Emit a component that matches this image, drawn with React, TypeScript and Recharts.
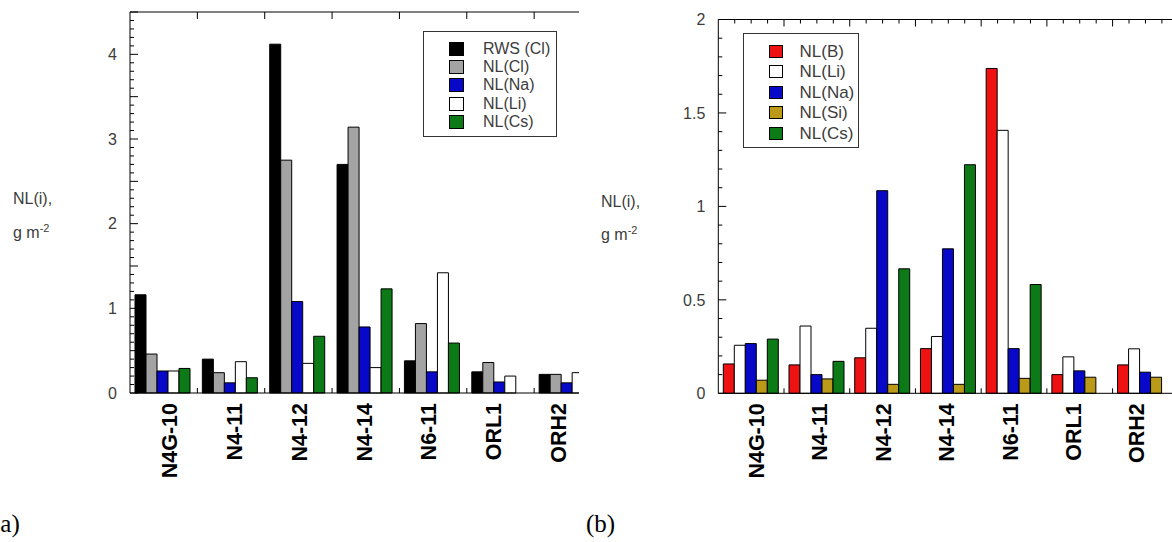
import React from "react"
import { BarChart, Bar, XAxis, YAxis, Legend } from "recharts"

const samples = ["N4G-10", "N4-11", "N4-12", "N4-14", "N6-11", "ORL1", "ORH2"]

// panel (a)
const rwsCl = [1.16, 0.4, 4.12, 2.7, 0.38, 0.25, 0.22]
const nlClA = [0.46, 0.24, 2.75, 3.14, 0.82, 0.36, 0.22]
const nlNaA = [0.26, 0.12, 1.08, 0.78, 0.25, 0.13, 0.12]
const nlLiA = [0.26, 0.37, 0.35, 0.3, 1.42, 0.2, 0.24]
const nlCsA = [0.29, 0.18, 0.67, 1.23, 0.59, null, null]

// panel (b)
const nlB = [0.157, 0.152, 0.19, 0.239, 1.738, 0.1, 0.152]
const nlLiB = [0.257, 0.36, 0.348, 0.304, 1.407, 0.195, 0.238]
const nlNaB = [0.266, 0.1, 1.084, 0.773, 0.239, 0.12, 0.113]
const nlSi = [0.07, 0.077, 0.048, 0.048, 0.08, 0.086, 0.086]
const nlCsB = [0.29, 0.171, 0.666, 1.223, 0.582, null, null]

const labelsA = [0, 1, 2, 3, 4]
const labelsB = [0, 0.5, 1, 1.5, 2]

const minorTicks = (max: number) => Array.from({ length: Math.round(max * 10) + 1 }, (_, i) => i / 10)

const seriesA = [
  { key: "rws", name: "RWS (Cl)", values: rwsCl, fill: "#000000" },
  { key: "cl", name: "NL(Cl)", values: nlClA, fill: "#a3a3a3" },
  { key: "na", name: "NL(Na)", values: nlNaA, fill: "#0808c8" },
  { key: "li", name: "NL(Li)", values: nlLiA, fill: "#ffffff" },
  { key: "cs", name: "NL(Cs)", values: nlCsA, fill: "#0c7a16" },
]

const seriesB = [
  { key: "b", name: "NL(B)", values: nlB, fill: "#ee1212" },
  { key: "li", name: "NL(Li)", values: nlLiB, fill: "#ffffff" },
  { key: "na", name: "NL(Na)", values: nlNaB, fill: "#0808c8" },
  { key: "si", name: "NL(Si)", values: nlSi, fill: "#bb9a1a" },
  { key: "cs", name: "NL(Cs)", values: nlCsB, fill: "#0c7a16" },
]

const buildRows = (series: typeof seriesA) =>
  samples.map((name, i) => {
    const row: Record<string, any> = { name }
    series.forEach((s) => (row[s.key] = s.values[i]))
    return row
  })

const FONT = "'Liberation Sans', Arial, sans-serif"
const TEXT = "#3c3c3c"

const makeYTick = (labels: number[]) => (props: any) => {
  const { x, y, payload } = props
  const v = payload.value
  const half = Math.abs(v * 2 - Math.round(v * 2)) < 1e-6
  const show = labels.some((l) => Math.abs(l - v) < 1e-6)
  return (
    <g>
      <line x1={x} x2={x + (half ? 8 : 4)} y1={y} y2={y} stroke="#000" strokeWidth={1} />
      {show && (
        <text x={x - 13} y={y} dy="0.36em" textAnchor="end" fontSize={16} fill={TEXT} style={{ fontFamily: FONT }}>
          {v}
        </text>
      )}
    </g>
  )
}

// labels drift slightly left of the group centres in the original figure
const makeBottomTick = (shift: number, drift: number) => (props: any) => {
  const { x, y, payload, index } = props
  const off = payload.offset ?? 0
  const lx = x + shift - drift * index
  return (
    <g>
      {index > 0 && <line x1={x - off} x2={x - off} y1={y} y2={y - 5} stroke="#000" strokeWidth={1} />}
      <text
        transform={`translate(${lx},${y + 10}) rotate(-90)`}
        textAnchor="end"
        dy="0.36em"
        fontSize={21.5}
        fontWeight="bold"
        fill="#000"
        style={{ fontFamily: FONT }}
      >
        {payload.value}
      </text>
    </g>
  )
}

const makeTopTick = (quarters: boolean) => (props: any) => {
  const { x, y, payload, index } = props
  const off = payload.offset ?? 0
  const left = x - off
  return (
    <g>
      {index > 0 && <line x1={left} x2={left} y1={y} y2={y + 7} stroke="#000" strokeWidth={1} />}
      {quarters &&
        [1, 2, 3].map((k) => (
          <line key={k} x1={left + (k * off) / 2} x2={left + (k * off) / 2} y1={y} y2={y + 4} stroke="#000" strokeWidth={1} />
        ))}
    </g>
  )
}

const makeLegend = (series: typeof seriesA, o: { w: number; h: number; pad: number; padL: number; row: number; sw: number; sh: number; gap: number; fs: number }) =>
  (props: any) => {
    const items = [...(props.payload || [])].sort(
      (a: any, b: any) => series.findIndex((s) => s.name === a.value) - series.findIndex((s) => s.name === b.value)
    )
    return (
      <div
        style={{
          width: o.w,
          height: o.h,
          boxSizing: "border-box",
          border: "1px solid #333",
          background: "#fff",
          paddingTop: o.pad,
          paddingLeft: o.padL,
          fontFamily: FONT,
        }}
      >
        {items.map((p: any) => (
          <div key={p.value} style={{ display: "flex", alignItems: "center", height: o.row }}>
            <span
              style={{
                display: "inline-block",
                width: o.sw,
                height: o.sh,
                background: p.color,
                border: "1px solid #000",
                boxSizing: "border-box",
                marginRight: o.gap,
              }}
            />
            <span style={{ fontSize: o.fs, color: TEXT, lineHeight: 1, whiteSpace: "nowrap" }}>{p.value}</span>
          </div>
        ))}
      </div>
    )
  }

const abs = (left: number, top: number, extra: React.CSSProperties = {}): React.CSSProperties => ({
  position: "absolute",
  left,
  top,
  ...extra,
})

function AxisTitle({ left, top, gap }: { left: number; top: number; gap: number }) {
  const st: React.CSSProperties = { fontFamily: FONT, fontSize: 16, color: TEXT, lineHeight: "18px", whiteSpace: "nowrap" }
  return (
    <>
      <div style={abs(left, top, st)}>NL(i),</div>
      <div style={abs(left, top + gap, st)}>
        g m<sup style={{ fontSize: 11, verticalAlign: "6px" }}>-2</sup>
      </div>
    </>
  )
}

export default function App() {
  const dataA = buildRows(seriesA)
  const dataB = buildRows(seriesB)

  return (
    <div style={{ position: "absolute", left: 0, top: 0, width: 1172, height: 542, overflow: "hidden", background: "#fff" }}>
      {/* panel (a) */}
      <div style={abs(0, 0, { width: 579, height: 542, overflow: "hidden" })}>
        <BarChart width={620} height={542} data={dataA} margin={{ top: 11, left: 70, right: 18.5, bottom: 49 }} barCategoryGap={5} barGap={0}>
          <XAxis dataKey="name" height={100} tickSize={0} tickMargin={0} interval={0} stroke="#000" tick={makeBottomTick(6, 2.6)} />
          <XAxis xAxisId="top" orientation="top" dataKey="name" height={1} tickSize={0} tickMargin={0} interval={0} stroke="#000" tick={makeTopTick(false)} />
          <YAxis type="number" domain={[0, 4.5]} ticks={minorTicks(4.5)} interval={0} width={60} tickSize={0} tickMargin={0} stroke="#000" tick={makeYTick(labelsA)} />
          <Legend
            layout="horizontal"
            verticalAlign="middle"
            align="center"
            wrapperStyle={{ left: 423, top: 31, width: 134, height: 106 }}
            content={makeLegend(seriesA, { w: 134, h: 106, pad: 8, padL: 25, row: 18.2, sw: 15, sh: 14, gap: 19, fs: 16 })}
          />
          {seriesA.map((s) => (
            <Bar key={s.key} dataKey={s.key} name={s.name} fill={s.fill} stroke="#000" strokeWidth={1} isAnimationActive={false} />
          ))}
        </BarChart>
      </div>
      <AxisTitle left={13} top={190} gap={29} />
      <div style={abs(-8, 511, { fontFamily: "'Liberation Serif', 'Times New Roman', serif", fontSize: 25, lineHeight: 1, color: "#000" })}>(a)</div>

      {/* panel (b) */}
      <div style={abs(586, 0, { width: 586, height: 542, overflow: "hidden" })}>
        <BarChart width={620} height={542} data={dataB} margin={{ top: 18.5, left: 72.3, right: 27.7, bottom: 48.7 }} barCategoryGap={5} barGap={0}>
          <XAxis dataKey="name" height={100} tickSize={0} tickMargin={0} interval={0} stroke="#000" tick={makeBottomTick(5, 2.3)} />
          <XAxis xAxisId="top" orientation="top" dataKey="name" height={1} tickSize={0} tickMargin={0} interval={0} stroke="#000" tick={makeTopTick(true)} />
          <YAxis type="number" domain={[0, 2]} ticks={minorTicks(2)} interval={0} width={60} tickSize={0} tickMargin={0} stroke="#000" tick={makeYTick(labelsB)} />
          <Legend
            layout="horizontal"
            verticalAlign="middle"
            align="center"
            wrapperStyle={{ left: 156.5, top: 33.3, width: 116, height: 115 }}
            content={makeLegend(seriesB, { w: 116, h: 115, pad: 6.5, padL: 25, row: 20.5, sw: 14, sh: 13, gap: 17, fs: 17 })}
          />
          {seriesB.map((s) => (
            <Bar key={s.key} dataKey={s.key} name={s.name} fill={s.fill} stroke="#000" strokeWidth={1} isAnimationActive={false} />
          ))}
        </BarChart>
      </div>
      <AxisTitle left={601} top={193} gap={28} />
      <div style={abs(586, 511, { fontFamily: "'Liberation Serif', 'Times New Roman', serif", fontSize: 25, lineHeight: 1, color: "#000" })}>(b)</div>
    </div>
  )
}
